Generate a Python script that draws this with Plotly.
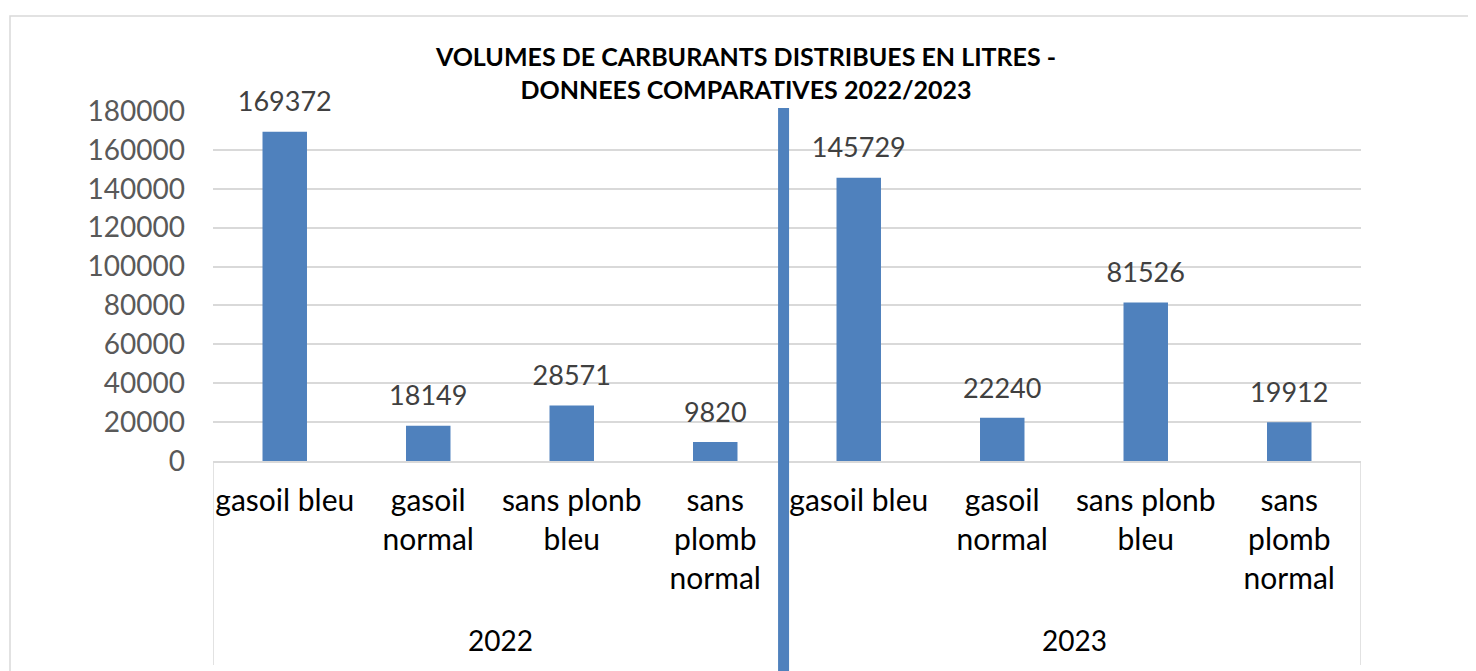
import plotly.graph_objects as go

years = ["2022", "2023"]
fuels = ["gasoil bleu", "gasoil<br>normal", "sans plonb<br>bleu", "sans<br>plomb<br>normal"]
fuel_labels = fuels * 2
volumes = [169372, 18149, 28571, 9820, 145729, 22240, 81526, 19912]
y_ticks = [0, 20000, 40000, 60000, 80000, 100000, 120000, 140000, 160000, 180000]
y_ticktext = [str(v) for v in y_ticks]

BLUE = "#4F81BD"
GRID = "#D9D9D9"
FONT = "Lato"

# page has an 8px body margin; the figure is sized to fit the window
W, H = 1468, 663

idx = list(range(len(volumes)))
n_per_year = len(fuels)

fig = go.Figure()
fig.add_trace(go.Bar(
    x=idx, y=volumes,
    marker=dict(color=BLUE, line=dict(width=0)),
    width=0.31,
    hoverinfo="skip",
))
fig.add_trace(go.Scatter(
    x=idx, y=volumes,
    mode="markers+text",
    marker=dict(size=20, opacity=0),
    text=[str(v) for v in volumes],
    textposition="top center",
    textfont=dict(family=FONT, size=27, color="#404040"),
    cliponaxis=False,
    hoverinfo="skip",
))

fig.update_layout(
    width=W, height=H,
    margin=dict(l=205, r=115, t=103, b=210),
    paper_bgcolor="white", plot_bgcolor="white",
    showlegend=False,
    title=dict(
        text="VOLUMES DE CARBURANTS DISTRIBUES EN LITRES -<br>DONNEES COMPARATIVES 2022/2023",
        x=(746 - 8) / W, xanchor="center", xref="container",
        y=1 - 58 / H, yanchor="top", yref="container",
        font=dict(family=FONT, size=25, color="black", weight="bold"),
    ),
    xaxis=dict(
        range=[-0.5, len(volumes) - 0.5],
        tickvals=idx, ticktext=fuel_labels,
        showgrid=False, zeroline=False,
        showline=True, linecolor=GRID, linewidth=1.5,
        tickfont=dict(family=FONT, size=30, color="black"),
        ticks="", automargin=False, ticklabelstandoff=12,
    ),
    yaxis=dict(
        range=[0, 180000],
        tickvals=y_ticks, ticktext=y_ticktext,
        showgrid=True, gridcolor=GRID, gridwidth=1.5,
        zeroline=False, showline=False,
        tickfont=dict(family=FONT, size=28, color="#595959"),
        ticks="", automargin=False, ticklabelstandoff=27,
    ),
)

# year group labels and dividers
for k, yr in enumerate(years):
    fig.add_annotation(
        x=k * n_per_year + (n_per_year - 1) / 2, xref="x",
        y=(461 - 640) / 350, yref="paper",
        text=yr, showarrow=False, yanchor="middle",
        font=dict(family=FONT, size=28, color="black"),
    )
for xd in [-0.5, n_per_year - 0.5, len(volumes) - 0.5]:
    fig.add_shape(type="line", xref="x", yref="paper",
                  x0=xd, x1=xd, y0=(461 - 665) / 350, y1=0,
                  line=dict(color=GRID, width=1.5))

# outer chart frame
fig.add_shape(type="rect", xref="paper", yref="paper",
              x0=(10 - 213) / 1148, x1=(1490 - 213) / 1148,
              y0=(461 - 700) / 350, y1=(461 - 16) / 350,
              line=dict(color=GRID, width=1.5), layer="below")
# thick separator line between years (drawn slightly left of the group boundary, as in the source)
sep_x = n_per_year - 0.5 - 0.024
fig.add_shape(type="line", xref="x", yref="paper",
              x0=sep_x, x1=sep_x,
              y0=(461 - 680) / 350, y1=(461 - 108) / 350,
              line=dict(color=BLUE, width=11))

fig.write_html("out.html")
